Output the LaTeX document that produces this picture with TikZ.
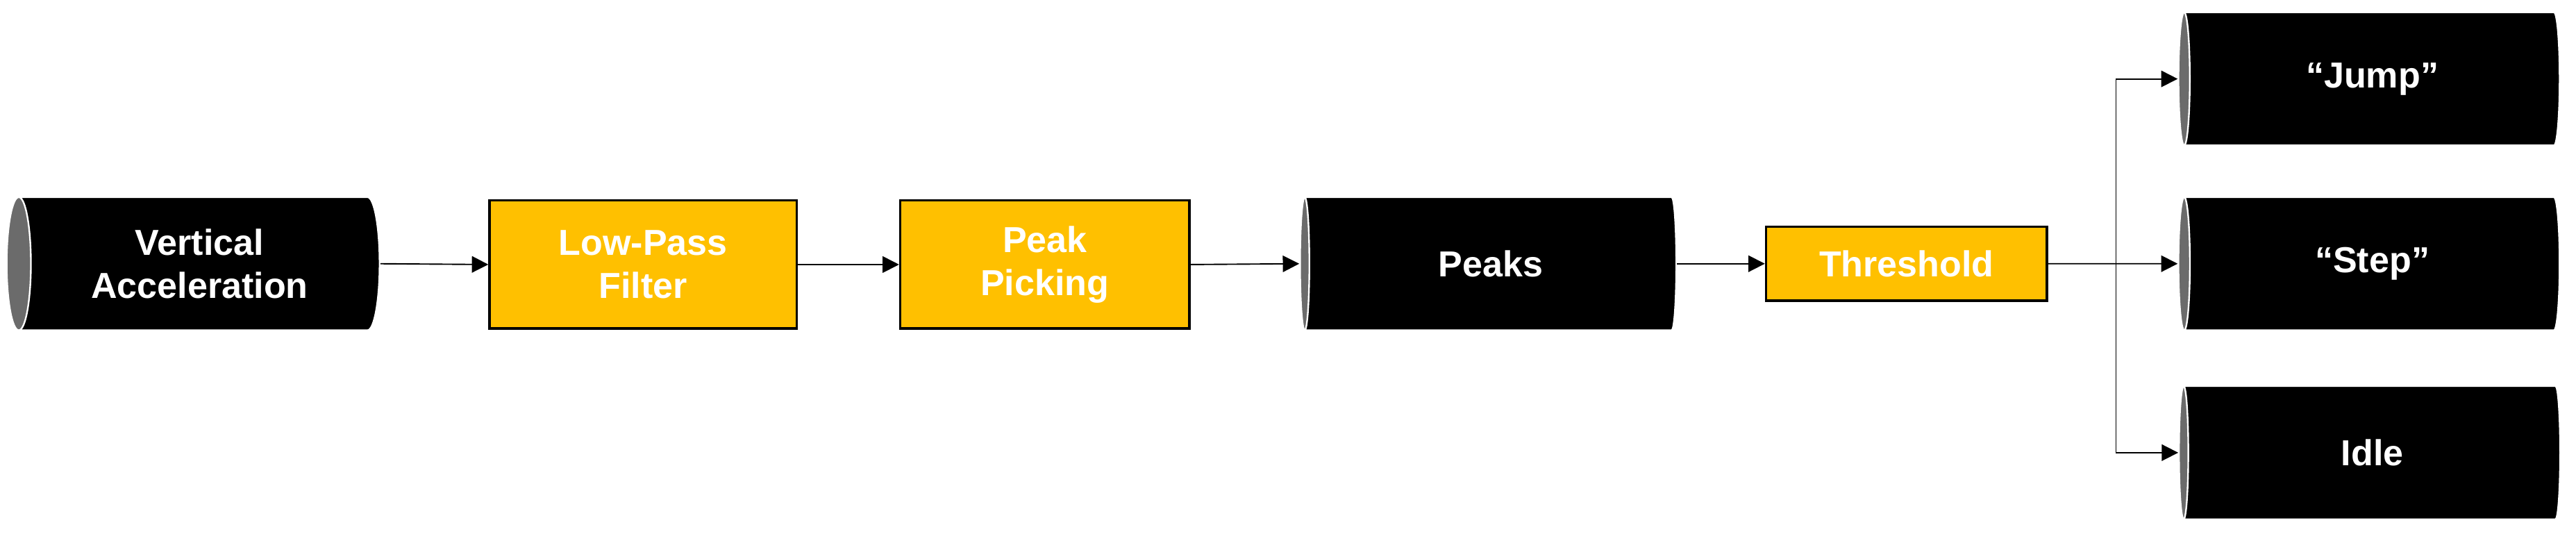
\documentclass[tikz,border=0pt]{standalone}
\usepackage{fontspec}
\setmainfont{Liberation Sans}
\usetikzlibrary{shapes.geometric,arrows.meta}
\definecolor{gold}{HTML}{FFC000}
\begin{document}
\begin{tikzpicture}[x=1pt,y=-1pt,
  txt/.style={text=white,font=\fontsize{22}{26}\selectfont\bfseries,align=center},
  cyl/.style={txt,shape=cylinder,shape border rotate=180,aspect=0.35,
    cylinder uses custom fill,cylinder body fill=black,cylinder end fill=black!58,
    draw=white,line width=1pt,minimum height=#1,minimum width=81pt,inner sep=0pt},
  box/.style={txt,draw=black,line width=1.5pt,fill=gold,inner sep=0pt},
  arr/.style={-{Triangle[length=10pt,width=10pt]},line width=0.8pt}]
\useasboundingbox (0,0) rectangle (1568,324.6);
\node[cyl=227] (va) at (121.5,160.5) {Vertical\\Acceleration};
\node[box,minimum width=187,minimum height=78] (lp) at (391.5,161) {Low-Pass\\Filter};
\node[box,minimum width=176,minimum height=78] (pp) at (636,161) {Peak\\Picking};
\node[cyl=229] (pk) at (907.5,160.5) {Peaks};
\node[box,minimum width=171,minimum height=45] (th) at (1160.5,160.5) {Threshold};
\node[cyl=232] (ju) at (1444,48) {``Jump''};
\node[cyl=232] (st) at (1444,160.5) {``Step''};
\node[cyl=232] (id) at (1444,275.5) {Idle};
\coordinate (br) at (1288,160.5);
\draw[arr] (va.east) -- (lp.west);
\draw[arr] (lp.east) -- (pp.west);
\draw[arr] (pp.east) -- (pk.west);
\draw[arr] (pk.east) -- (th.west);
\draw[arr] (th.east) -- (st.west);
\draw[arr] (br) |- (ju.west);
\draw[arr] (br) |- (id.west);
\end{tikzpicture}
\end{document}
